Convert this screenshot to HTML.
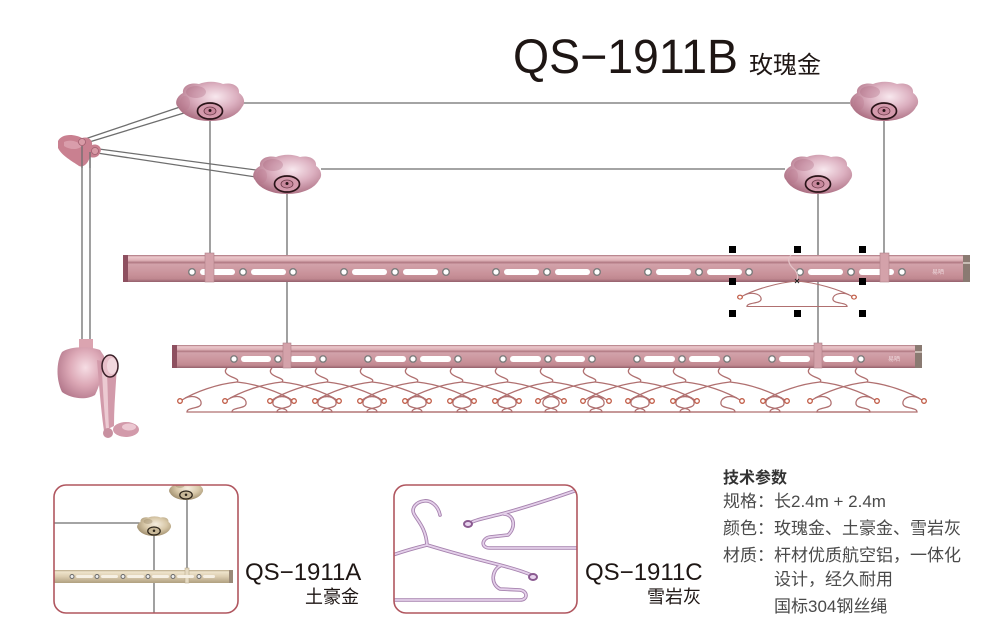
<!DOCTYPE html>
<html><head><meta charset="utf-8">
<style>
html,body{margin:0;padding:0;background:#fff;}
svg{display:block;}
text{font-family:"Liberation Sans","Noto Sans CJK SC",sans-serif;}
.cj{font-family:"Noto Sans CJK SC","WenQuanYi Zen Hei",sans-serif;}
</style></head>
<body>
<svg width="1000" height="639" viewBox="0 0 1000 639" xmlns="http://www.w3.org/2000/svg">
<defs>
  <linearGradient id="bar" x1="0" y1="0" x2="0" y2="1">
    <stop offset="0" stop-color="#a8707a"/>
    <stop offset="0.07" stop-color="#ecc8cc"/>
    <stop offset="0.2" stop-color="#ddb0b6"/>
    <stop offset="0.28" stop-color="#b07882"/>
    <stop offset="0.34" stop-color="#d2a2aa"/>
    <stop offset="0.7" stop-color="#c9929a"/>
    <stop offset="0.88" stop-color="#c08890"/>
    <stop offset="1" stop-color="#94606c"/>
  </linearGradient>
  <linearGradient id="gbar" x1="0" y1="0" x2="0" y2="1">
    <stop offset="0" stop-color="#b8a888"/>
    <stop offset="0.15" stop-color="#efe4cc"/>
    <stop offset="0.5" stop-color="#dccdb0"/>
    <stop offset="1" stop-color="#b0a080"/>
  </linearGradient>
  <radialGradient id="mg" cx="0.58" cy="0.38" r="0.7">
    <stop offset="0" stop-color="#f8e8ee"/>
    <stop offset="0.45" stop-color="#dcb0c0"/>
    <stop offset="1" stop-color="#a46478"/>
  </radialGradient>
  <radialGradient id="gg" cx="0.55" cy="0.4" r="0.65">
    <stop offset="0" stop-color="#f6eee0"/>
    <stop offset="0.5" stop-color="#d8c8a8"/>
    <stop offset="1" stop-color="#9a8868"/>
  </radialGradient>
  <radialGradient id="wg" cx="0.6" cy="0.4" r="0.7">
    <stop offset="0" stop-color="#f6dde4"/>
    <stop offset="0.5" stop-color="#dca8b6"/>
    <stop offset="1" stop-color="#b07488"/>
  </radialGradient>
  <g id="mt">
    <path d="M-27,-8 C-28,-15 -20,-19 -11,-17 C-4,-20 6,-20 13,-17 C22,-19 30,-15 29,-8 C34,-5 36,2 32,6 C28,14 16,20 0,20 C-16,20 -28,14 -32,6 C-36,2 -33,-5 -27,-8 Z" fill="url(#mg)"/>
    <ellipse cx="-14" cy="-9" rx="10" ry="6" fill="#a05a74" opacity="0.28"/>
    <ellipse cx="-25" cy="2" rx="5" ry="7" fill="#b87088" opacity="0.25"/>
    <ellipse cx="0" cy="10" rx="12.5" ry="8" fill="#d49aac" stroke="#2a1418" stroke-width="1.7"/>
    <ellipse cx="0" cy="10" rx="6" ry="4" fill="#c8889c" stroke="#6a3a48" stroke-width="0.8"/>
    <circle cx="0" cy="9.5" r="1.5" fill="#2a1418"/>
  </g>
  <g id="mtg">
    <path d="M-27,-8 C-28,-15 -20,-19 -11,-17 C-4,-20 6,-20 13,-17 C22,-19 30,-15 29,-8 C34,-5 36,2 32,6 C28,14 16,20 0,20 C-16,20 -28,14 -32,6 C-36,2 -33,-5 -27,-8 Z" fill="url(#gg)"/>
    <ellipse cx="-12" cy="-9" rx="9" ry="5" fill="#8a7858" opacity="0.35"/>
    <ellipse cx="0" cy="10" rx="12.5" ry="8" fill="#c8b898" stroke="#2a2218" stroke-width="2.4"/>
    <circle cx="0" cy="9.5" r="2.5" fill="#2a2218"/>
  </g>
  <g id="hk" fill="none" stroke="#b07070" stroke-width="1.3">
    <path d="M-10,-14 C-14,-10 -10,-7 -5,-5 C0,-3 2,-2 0,0"/>
  </g>
  <g id="hb" fill="none" stroke="#b07070" stroke-width="1.3">
    <path d="M0,0 C-20,2 -42,10 -55,18"/>
    <path d="M0,0 C20,2 42,10 55,18"/>
    <path d="M-52,16 C-42,12 -35,17 -36,22 C-37,27 -50,25 -50,30 L50,30 C50,25 37,27 36,22 C35,17 42,12 52,16"/>
    <circle cx="-57" cy="19" r="2.3" stroke="#c05a44"/>
    <circle cx="57" cy="19" r="2.3" stroke="#c05a44"/>
  </g>
  <clipPath id="c1"><rect x="54" y="485" width="184" height="128" rx="12"/></clipPath>
  <clipPath id="c2"><rect x="394" y="485" width="183" height="128" rx="12"/></clipPath>
</defs>

<rect width="1000" height="639" fill="#fff"/>

<!-- Title -->
<text x="513" y="73" font-size="48" textLength="225" lengthAdjust="spacingAndGlyphs" fill="#1e1614">QS−1911B</text>
<text x="749" y="73" font-size="24" fill="#1e1614" class="cj">玫瑰金</text>

<!-- cables -->
<g stroke="#6e6e6e" stroke-width="1.3" fill="none">
  <line x1="243" y1="103" x2="850" y2="103"/>
  <line x1="321" y1="169" x2="785" y2="169"/>
  <line x1="82" y1="140" x2="180" y2="107"/>
  <line x1="86" y1="143" x2="184" y2="113"/>
  <line x1="99" y1="149" x2="256" y2="170"/>
  <line x1="97" y1="153" x2="256" y2="177"/>
  <line x1="82" y1="146" x2="82" y2="342"/>
  <line x1="90" y1="152" x2="90" y2="342"/>
  <line x1="210" y1="111" x2="210" y2="256"/>
  <line x1="884" y1="111" x2="884" y2="256"/>
  <line x1="287" y1="184" x2="287" y2="346"/>
  <line x1="818" y1="184" x2="818" y2="346"/>
</g>

<!-- mounts -->
<use href="#mt" x="210" y="101"/>
<use href="#mt" x="884" y="101"/>
<use href="#mt" x="287" y="174"/>
<use href="#mt" x="818" y="174"/>

<!-- bracket -->
<path d="M58,141 C62,133 75,134 82,138 C88,136 93,140 92,145 C98,143 103,148 100,153 C98,158 93,158 90,157 C88,163 84,168 79,166 C72,161 62,156 58,148 Z" fill="#c98090"/>
<path d="M64,142 C70,139 78,141 82,146 C78,150 70,150 64,146 Z" fill="#e0aab6" opacity="0.7"/>
<circle cx="82" cy="142" r="3.5" fill="#d89aa6" stroke="#a06070" stroke-width="0.8"/>
<circle cx="95" cy="151" r="3.5" fill="#d89aa6" stroke="#a06070" stroke-width="0.8"/>
<line x1="82" y1="146" x2="82" y2="168" stroke="#6e6e6e" stroke-width="1.3"/>
<line x1="90" y1="152" x2="90" y2="168" stroke="#6e6e6e" stroke-width="1.3"/>

<!-- winch -->
<rect x="79" y="339" width="14" height="14" fill="#dba4b0"/>
<rect x="79" y="349" width="14" height="4" fill="#b07888"/>
<path d="M62,352 C70,346 90,346 100,350 L104,356 C104,370 100,385 95,395 C85,401 70,398 62,392 C56,380 56,362 62,352 Z" fill="url(#wg)"/>
<path d="M97,360 L117,364 C116,385 114,405 114,426 L104,431 C101,410 99,385 97,360 Z" fill="#d29aaa"/>
<path d="M102,372 L107,373 C108,395 108,412 109,428 L106,429 C104,410 103,390 102,372 Z" fill="#eccad2"/>
<ellipse cx="110" cy="366" rx="8" ry="11" fill="#e8c0ca" stroke="#3a2028" stroke-width="1.5"/>
<ellipse cx="112" cy="366" rx="5" ry="8" fill="#f2d8de"/>
<ellipse cx="126" cy="429.5" rx="13" ry="7.5" fill="#d29aaa"/>
<ellipse cx="129" cy="427" rx="7" ry="3.5" fill="#ecc8d2"/>
<ellipse cx="108" cy="433" rx="5" ry="5" fill="#c890a0"/>

<!-- top bar -->
<rect x="123" y="255" width="847" height="27" fill="url(#bar)"/>
<rect x="123" y="255" width="5" height="27" fill="#8e5060"/>
<rect x="963" y="255" width="7" height="27" fill="#8a7a72"/>
<rect x="963" y="262" width="7" height="2" fill="#c8bcb4"/>
<g fill="#fff" stroke="#7c7c7c" stroke-width="1.4">
  <circle cx="192" cy="272" r="3.3"/><circle cx="243" cy="272" r="3.3"/><circle cx="293" cy="272" r="3.3"/>
  <circle cx="344" cy="272" r="3.3"/><circle cx="395" cy="272" r="3.3"/><circle cx="446" cy="272" r="3.3"/>
  <circle cx="496" cy="272" r="3.3"/><circle cx="547" cy="272" r="3.3"/><circle cx="597" cy="272" r="3.3"/>
  <circle cx="648" cy="272" r="3.3"/><circle cx="699" cy="272" r="3.3"/><circle cx="749" cy="272" r="3.3"/>
  <circle cx="800" cy="272" r="3.3"/><circle cx="851" cy="272" r="3.3"/><circle cx="902" cy="272" r="3.3"/>
</g>
<g fill="#fff">
  <rect x="200" y="269" width="35" height="6" rx="3"/><rect x="251" y="269" width="35" height="6" rx="3"/>
  <rect x="352" y="269" width="35" height="6" rx="3"/><rect x="403" y="269" width="35" height="6" rx="3"/>
  <rect x="504" y="269" width="35" height="6" rx="3"/><rect x="555" y="269" width="35" height="6" rx="3"/>
  <rect x="656" y="269" width="35" height="6" rx="3"/><rect x="707" y="269" width="35" height="6" rx="3"/>
  <rect x="808" y="269" width="35" height="6" rx="3"/><rect x="859" y="269" width="35" height="6" rx="3"/>
</g>
<rect x="205" y="253" width="9" height="29" fill="#d4a2aa" stroke="#b08088" stroke-width="0.6"/>
<rect x="880" y="253" width="9" height="29" fill="#d4a2aa" stroke="#b08088" stroke-width="0.6"/>
<text x="932" y="274" font-size="6" fill="#ecd6da">易晒</text>
<path d="M791,255 C786,260 790,266 795,270 C798,274 798,278 797,281" fill="none" stroke="#e4c4c8" stroke-width="1.2"/>

<!-- selected hanger under top bar -->
<g transform="translate(797,281) scale(1,0.85)"><use href="#hb"/></g>

<!-- selection handles -->
<g fill="#000">
  <rect x="729" y="246" width="7" height="7"/><rect x="794" y="246" width="7" height="7"/><rect x="859" y="246" width="7" height="7"/>
  <rect x="729" y="278" width="7" height="7"/><rect x="859" y="278" width="7" height="7"/>
  <rect x="729" y="310" width="7" height="7"/><rect x="794" y="310" width="7" height="7"/><rect x="859" y="310" width="7" height="7"/>
</g>
<path d="M795,279 L799,283 M799,279 L795,283" stroke="#222" stroke-width="1"/>

<!-- lower hangers -->
<g>
  <use href="#hk" x="237" y="382"/><use href="#hb" x="237" y="382"/>
  <use href="#hk" x="282" y="382"/><use href="#hb" x="282" y="382"/>
  <use href="#hk" x="327" y="382"/><use href="#hb" x="327" y="382"/>
  <use href="#hk" x="372" y="382"/><use href="#hb" x="372" y="382"/>
  <use href="#hk" x="417" y="382"/><use href="#hb" x="417" y="382"/>
  <use href="#hk" x="462" y="382"/><use href="#hb" x="462" y="382"/>
  <use href="#hk" x="507" y="382"/><use href="#hb" x="507" y="382"/>
  <use href="#hk" x="552" y="382"/><use href="#hb" x="552" y="382"/>
  <use href="#hk" x="595" y="382"/><use href="#hb" x="595" y="382"/>
  <use href="#hk" x="640" y="382"/><use href="#hb" x="640" y="382"/>
  <use href="#hk" x="685" y="382"/><use href="#hb" x="685" y="382"/>
  <use href="#hk" x="730" y="382"/><use href="#hb" x="730" y="382"/>
  <use href="#hk" x="820" y="382"/><use href="#hb" x="820" y="382"/>
  <use href="#hk" x="867" y="382"/><use href="#hb" x="867" y="382"/>
</g>

<!-- lower bar -->
<rect x="172" y="345" width="750" height="23" fill="url(#bar)"/>
<rect x="172" y="345" width="5" height="23" fill="#8e5060"/>
<rect x="915" y="345" width="7" height="23" fill="#8a7a72"/>
<rect x="915" y="351" width="7" height="2" fill="#c8bcb4"/>
<g fill="#fff" stroke="#7c7c7c" stroke-width="1.4">
  <circle cx="234" cy="359" r="3.2"/><circle cx="278" cy="359" r="3.2"/><circle cx="323" cy="359" r="3.2"/>
  <circle cx="368" cy="359" r="3.2"/><circle cx="413" cy="359" r="3.2"/><circle cx="458" cy="359" r="3.2"/>
  <circle cx="503" cy="359" r="3.2"/><circle cx="548" cy="359" r="3.2"/><circle cx="592" cy="359" r="3.2"/>
  <circle cx="637" cy="359" r="3.2"/><circle cx="682" cy="359" r="3.2"/><circle cx="727" cy="359" r="3.2"/>
  <circle cx="772" cy="359" r="3.2"/><circle cx="861" cy="359" r="3.2"/>
</g>
<g fill="#fff">
  <rect x="241" y="356" width="30" height="6" rx="3"/><rect x="290" y="356" width="26" height="6" rx="3"/>
  <rect x="375" y="356" width="31" height="6" rx="3"/><rect x="420" y="356" width="31" height="6" rx="3"/>
  <rect x="510" y="356" width="31" height="6" rx="3"/><rect x="555" y="356" width="30" height="6" rx="3"/>
  <rect x="644" y="356" width="31" height="6" rx="3"/><rect x="689" y="356" width="31" height="6" rx="3"/>
  <rect x="779" y="356" width="31" height="6" rx="3"/><rect x="823" y="356" width="31" height="6" rx="3"/>
</g>
<rect x="283" y="343" width="8" height="25" fill="#d4a2aa" stroke="#b08088" stroke-width="0.6"/>
<rect x="814" y="343" width="8" height="25" fill="#d4a2aa" stroke="#b08088" stroke-width="0.6"/>
<text x="888" y="361" font-size="6" fill="#ecd6da">易晒</text>

<!-- Box 1 -->
<g clip-path="url(#c1)">
  <g stroke="#6e6e6e" stroke-width="1.3">
    <line x1="54" y1="523" x2="140" y2="523"/>
    <line x1="154" y1="530" x2="154" y2="613"/>
    <line x1="187" y1="495" x2="187" y2="571"/>
  </g>
  <g transform="translate(186,490) scale(0.5)"><use href="#mtg"/></g>
  <g transform="translate(154,526) scale(0.5)"><use href="#mtg"/></g>
  <rect x="54" y="570" width="179" height="13" fill="url(#gbar)"/>
  <rect x="229" y="570" width="4" height="13" fill="#9a8a78"/>
  <rect x="185" y="568" width="4" height="15" fill="#e6dac2" stroke="#b0a080" stroke-width="0.5"/>
  <g fill="#f6f0e4">
    <rect x="76" y="575" width="17" height="3" rx="1.5"/><rect x="101" y="575" width="17" height="3" rx="1.5"/>
    <rect x="127" y="575" width="17" height="3" rx="1.5"/><rect x="152" y="575" width="17" height="3" rx="1.5"/>
    <rect x="177" y="575" width="17" height="3" rx="1.5"/><rect x="203" y="575" width="12" height="3" rx="1.5"/>
  </g>
  <g fill="#eee" stroke="#6a6a6a" stroke-width="1">
    <circle cx="72" cy="576.5" r="2"/><circle cx="97" cy="576.5" r="2"/><circle cx="123" cy="576.5" r="2"/>
    <circle cx="148" cy="576.5" r="2"/><circle cx="173" cy="576.5" r="2"/><circle cx="199" cy="576.5" r="2"/>
  </g>
</g>
<rect x="54" y="485" width="184" height="128" rx="12" fill="none" stroke="#b0565f" stroke-width="1.6"/>
<text x="245" y="580" font-size="24" fill="#1e1614">QS−1911A</text>
<text x="305" y="603" font-size="18" fill="#1e1614" class="cj">土豪金</text>

<!-- Box 2 -->
<g clip-path="url(#c2)" fill="none" stroke-linecap="round" stroke-linejoin="round">
  <g stroke="#a682ae" stroke-width="3.6">
    <path d="M440,515 C438,505 430,500 424,501 C416,502 411,508 414,514 C417,520 426,528 427,545"/>
    <path d="M427,545 C415,548 404,551 390,556"/>
    <path d="M427,545 C450,552 480,560 500,565 C515,569 525,572 531,575"/>
    <path d="M500,566 C492,570 490,584 500,589 L520,590 C528,591 528,600 520,600 L390,600"/>
    <path d="M580,489 C560,496 530,506 505,513 C490,517 478,519 472,522"/>
    <path d="M504,514 C515,515 516,528 508,535 L490,537 C482,538 480,548 490,548 L580,548"/>
  </g>
  <g stroke="#e4d0ea" stroke-width="1.8">
    <path d="M440,515 C438,505 430,500 424,501 C416,502 411,508 414,514 C417,520 426,528 427,545"/>
    <path d="M427,545 C415,548 404,551 390,556"/>
    <path d="M427,545 C450,552 480,560 500,565 C515,569 525,572 531,575"/>
    <path d="M500,566 C492,570 490,584 500,589 L520,590 C528,591 528,600 520,600 L390,600"/>
    <path d="M580,489 C560,496 530,506 505,513 C490,517 478,519 472,522"/>
    <path d="M504,514 C515,515 516,528 508,535 L490,537 C482,538 480,548 490,548 L580,548"/>
  </g>
  <ellipse cx="533" cy="577" rx="4" ry="3" stroke="#8a5a90" stroke-width="2" fill="#e8d4ee"/>
  <ellipse cx="468" cy="524" rx="4" ry="3" stroke="#8a5a90" stroke-width="2" fill="#e8d4ee"/>
</g>
<rect x="394" y="485" width="183" height="128" rx="12" fill="none" stroke="#b0565f" stroke-width="1.6"/>
<text x="585" y="580" font-size="24" fill="#1e1614">QS−1911C</text>
<text x="647" y="603" font-size="18" fill="#1e1614" class="cj">雪岩灰</text>

<!-- Specs -->
<text x="723" y="483" font-size="16" font-weight="bold" fill="#333" class="cj">技术参数</text>
<g font-size="17" fill="#4a4a4a">
  <text x="723" y="507"><tspan class="cj">规格：长</tspan>2.4m + 2.4m</text>
  <text x="723" y="534" class="cj">颜色：玫瑰金、土豪金、雪岩灰</text>
  <text x="723" y="561" class="cj">材质：杆材优质航空铝，一体化</text>
  <text x="774" y="585" class="cj">设计，经久耐用</text>
  <text x="774" y="612"><tspan class="cj">国标</tspan>304<tspan class="cj">钢丝绳</tspan></text>
</g>
</svg>
</body></html>
